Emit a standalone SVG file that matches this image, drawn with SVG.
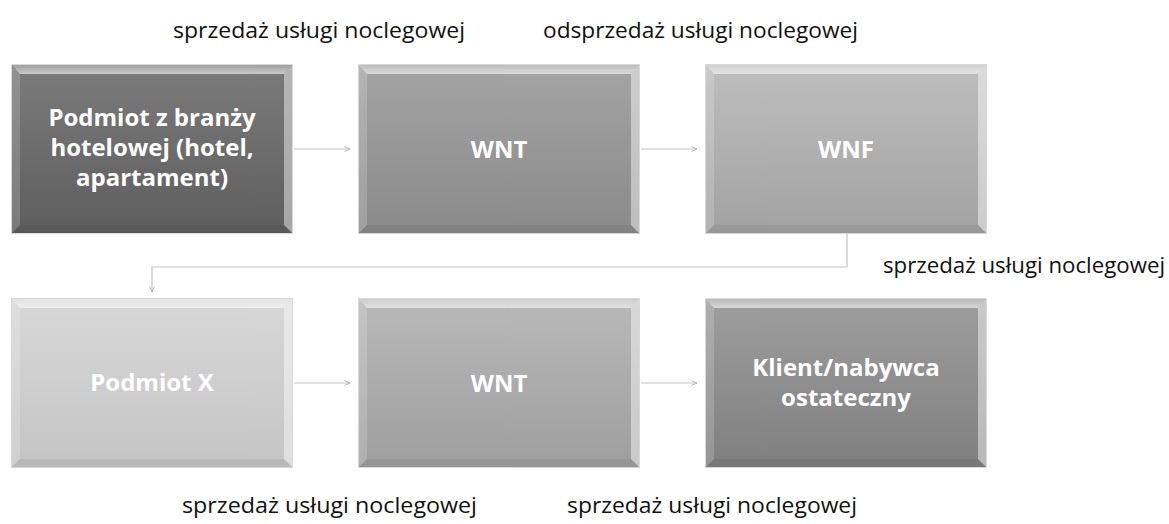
<svg xmlns="http://www.w3.org/2000/svg" xmlns:xlink="http://www.w3.org/1999/xlink" width="1169" height="524" viewBox="0 0 1169 524">
  <style>
    .lbl { font-family: "Open Sans", "Liberation Sans", sans-serif; font-size: 22px; fill: #111; }
    .nt { font-family: "Open Sans", "Liberation Sans", sans-serif; font-size: 24px; font-weight: bold; fill: #fff; text-anchor: middle; }
    .conn { fill: none; stroke: #c4c4c4; stroke-width: 1.2; }
  </style>
  <defs>
    <linearGradient id="g1" x1="0" y1="0" x2="0" y2="1"><stop offset="0" stop-color="#7b7b7b"/><stop offset="1" stop-color="#5e5e5e"/></linearGradient>
    <linearGradient id="g2" x1="0" y1="0" x2="0" y2="1"><stop offset="0" stop-color="#a4a4a4"/><stop offset="1" stop-color="#8a8a8a"/></linearGradient>
    <linearGradient id="g3" x1="0" y1="0" x2="0" y2="1"><stop offset="0" stop-color="#bebebe"/><stop offset="1" stop-color="#a2a2a2"/></linearGradient>
    <linearGradient id="g4" x1="0" y1="0" x2="0" y2="1"><stop offset="0" stop-color="#d8d8d8"/><stop offset="1" stop-color="#c4c4c4"/></linearGradient>
    <linearGradient id="g5" x1="0" y1="0" x2="0" y2="1"><stop offset="0" stop-color="#b9b9b9"/><stop offset="1" stop-color="#9e9e9e"/></linearGradient>
    <linearGradient id="g6" x1="0" y1="0" x2="0" y2="1"><stop offset="0" stop-color="#9e9e9e"/><stop offset="1" stop-color="#7f7f7f"/></linearGradient>
    <linearGradient id="bevTop" x1="0" y1="0" x2="0" y2="1"><stop offset="0" stop-color="#fff" stop-opacity="0.25"/><stop offset="1" stop-color="#fff" stop-opacity="0.6"/></linearGradient>
    <!-- bevelled edge overlay for a 282x170 box -->
    <symbol id="bevel" viewBox="0 0 282 170" preserveAspectRatio="none">
      <polygon points="0,0 282,0 273,10 9,10" fill="url(#bevTop)"/>
      <polygon points="0,0 9,10 9,161 0,170" fill="#fff" fill-opacity="0.18"/>
      <polygon points="282,0 282,170 273,161 273,10" fill="#fff" fill-opacity="0.45"/>
      <polygon points="0,170 9,161 273,161 282,170" fill="#000" fill-opacity="0.06"/>
      <rect x="0.5" y="0.5" width="281" height="169" fill="none" stroke="#d8d8d8" stroke-width="1"/>
    </symbol>
    <marker id="arr" viewBox="0 0 10 10" refX="9" refY="5" markerWidth="7" markerHeight="7" orient="auto" markerUnits="userSpaceOnUse">
      <path d="M1,1.5 L9,5 L1,8.5" fill="none" stroke="#b0b0b0" stroke-width="1.3"/>
    </marker>
  </defs>

  <rect width="1169" height="524" fill="#fff"/>

  <!-- connectors -->
  <g id="connectors">
    <line class="conn" x1="294" y1="149" x2="350" y2="149" marker-end="url(#arr)"/>
    <line class="conn" x1="641" y1="149" x2="697" y2="149" marker-end="url(#arr)"/>
    <polyline class="conn" points="847,234 847,267 152,267 152,292" marker-end="url(#arr)"/>
    <line class="conn" x1="294" y1="383" x2="350" y2="383" marker-end="url(#arr)"/>
    <line class="conn" x1="641" y1="383" x2="697" y2="383" marker-end="url(#arr)"/>
  </g>

  <!-- edge labels -->
  <g id="labels">
    <text class="lbl" x="173" y="38" textLength="292" lengthAdjust="spacingAndGlyphs">sprzedaż usługi noclegowej</text>
    <text class="lbl" x="543" y="38" textLength="315" lengthAdjust="spacingAndGlyphs">odsprzedaż usługi noclegowej</text>
    <text class="lbl" x="883" y="273" textLength="282" lengthAdjust="spacingAndGlyphs">sprzedaż usługi noclegowej</text>
    <text class="lbl" x="182" y="513" textLength="295" lengthAdjust="spacingAndGlyphs">sprzedaż usługi noclegowej</text>
    <text class="lbl" x="567" y="513" textLength="290" lengthAdjust="spacingAndGlyphs">sprzedaż usługi noclegowej</text>
  </g>

  <g id="node-hotel">
    <rect x="11" y="64" width="282" height="170" fill="url(#g1)"/>
    <use xlink:href="#bevel" x="11" y="64" width="282" height="170"/>
    <text class="nt" x="152" y="126">Podmiot z branży</text>
    <text class="nt" x="152" y="156">hotelowej (hotel,</text>
    <text class="nt" x="152" y="186">apartament)</text>
  </g>

  <g id="node-wnt1">
    <rect x="358" y="64" width="282" height="170" fill="url(#g2)"/>
    <use xlink:href="#bevel" x="358" y="64" width="282" height="170"/>
    <text class="nt" x="499" y="158">WNT</text>
  </g>

  <g id="node-wnf">
    <rect x="705" y="64" width="282" height="170" fill="url(#g3)"/>
    <use xlink:href="#bevel" x="705" y="64" width="282" height="170"/>
    <text class="nt" x="846" y="158">WNF</text>
  </g>

  <g id="node-podmiot-x">
    <rect x="11" y="298" width="282" height="170" fill="url(#g4)"/>
    <use xlink:href="#bevel" x="11" y="298" width="282" height="170"/>
    <text class="nt" x="152" y="391">Podmiot X</text>
  </g>

  <g id="node-wnt2">
    <rect x="358" y="298" width="282" height="170" fill="url(#g5)"/>
    <use xlink:href="#bevel" x="358" y="298" width="282" height="170"/>
    <text class="nt" x="499" y="392">WNT</text>
  </g>

  <g id="node-klient">
    <rect x="705" y="298" width="282" height="170" fill="url(#g6)"/>
    <use xlink:href="#bevel" x="705" y="298" width="282" height="170"/>
    <text class="nt" x="846" y="376">Klient/nabywca</text>
    <text class="nt" x="846" y="406">ostateczny</text>
  </g>
</svg>
